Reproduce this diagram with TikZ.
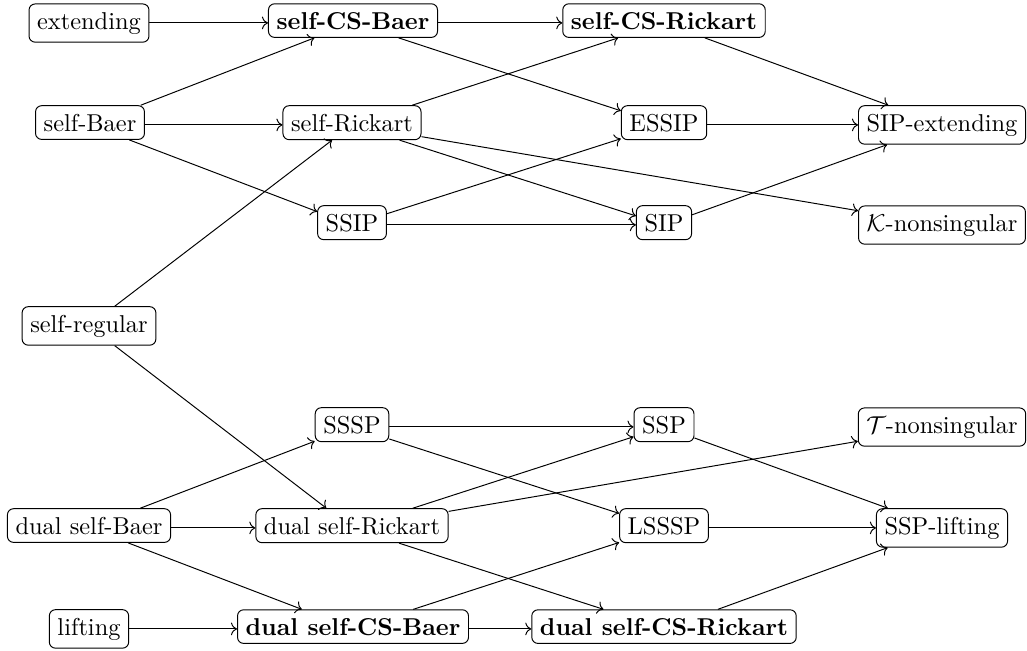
\documentclass[tikz,border=0pt]{standalone}
\usetikzlibrary{cd}
\begin{document}
\begin{tikzpicture}[x=0.41pt,y=-0.41pt,
  box/.style={draw, shape=asymmetrical rectangle, rounded corners=2.5pt, anchor=base, inner sep=3.33pt, line width=0.4pt},
  arr/.style={-{cm to}, line width=0.4pt}]
\useasboundingbox (0,0) rectangle (1027,650);
% row 1
\node[box] (ext)  at (89,29)  {extending};
\node[box] (scb)  at (353,29) {\textbf{self-CS-Baer}};
\node[box] (scr)  at (664,29) {\textbf{self-CS-Rickart}};
% row 2
\node[box] (sb)    at (90,131)  {self-Baer};
\node[box] (sr)    at (352,131) {self-Rickart};
\node[box] (essip) at (664,131) {ESSIP};
\node[box] (sipe)  at (942,131) {SIP-extending};
% row 3
\node[box] (ssip) at (352,231) {SSIP};
\node[box] (sip)  at (664,231) {SIP};
\node[box] (kn)   at (942,231) {$\mathcal{K}$-nonsingular};
% row 4
\node[box] (sreg) at (89,332) {self-regular};
% row 5
\node[box] (sssp) at (352,433) {SSSP};
\node[box] (ssp)  at (664,433) {SSP};
\node[box] (tn)   at (942,433) {$\mathcal{T}$-nonsingular};
% row 6
\node[box] (dsb)   at (89,534)  {dual self-Baer};
\node[box] (dsr)   at (352,534) {dual self-Rickart};
\node[box] (lsssp) at (664,534) {LSSSP};
\node[box] (sspl)  at (942,534) {SSP-lifting};
% row 7
\node[box] (lift) at (89,635)  {lifting};
\node[box] (dscb) at (353,635) {\textbf{dual self-CS-Baer}};
\node[box] (dscr) at (664,635) {\textbf{dual self-CS-Rickart}};
% top arrows
\draw[arr] (ext) -- (scb);
\draw[arr] (scb) -- (scr);
\draw[arr] (sb) -- (scb);
\draw[arr] (sb) -- (sr);
\draw[arr] (sb) -- (ssip);
\draw[arr] (scb) -- (essip);
\draw[arr] (sr) -- (scr);
\draw[arr] (scr) -- (sipe);
\draw[arr] (essip) -- (sipe);
\draw[arr] (sr) -- (sip);
\draw[arr] (sr) -- (kn);
\draw[arr] (ssip) -- (essip);
\draw[arr] (ssip) -- (sip);
\draw[arr] (sip) -- (sipe);
\draw[arr] (sreg) -- (sr);
\draw[arr] (sreg) -- (dsr);
% bottom arrows
\draw[arr] (sssp) -- (ssp);
\draw[arr] (sssp) -- (lsssp);
\draw[arr] (dsb) -- (sssp);
\draw[arr] (dsb) -- (dsr);
\draw[arr] (dsb) -- (dscb);
\draw[arr] (dsr) -- (ssp);
\draw[arr] (dsr) -- (tn);
\draw[arr] (dsr) -- (dscr);
\draw[arr] (ssp) -- (sspl);
\draw[arr] (lsssp) -- (sspl);
\draw[arr] (dscr) -- (sspl);
\draw[arr] (dscb) -- (lsssp);
\draw[arr] (dscb) -- (dscr);
\draw[arr] (lift) -- (dscb);
\end{tikzpicture}
\end{document}
